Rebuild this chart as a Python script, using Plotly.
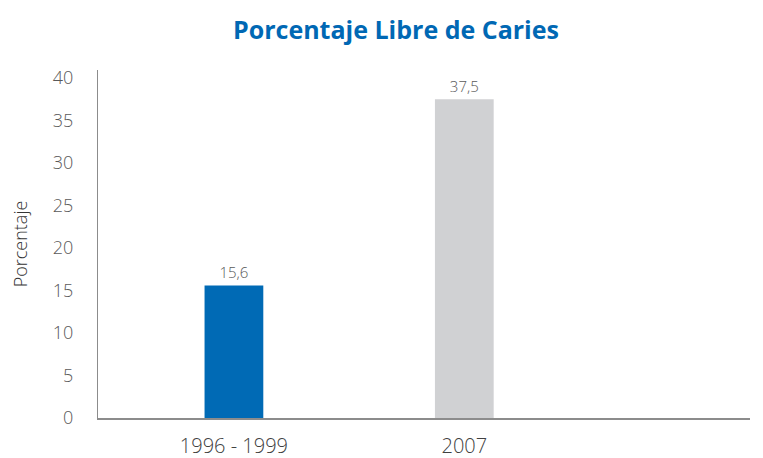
import plotly.graph_objects as go

categories = ["1996 - 1999", "2007"]
values = [15.6, 37.5]
bar_colors = ["#006AB5", "#D0D1D3"]
y_ticks = [0, 5, 10, 15, 20, 25, 30, 35, 40]

fig = go.Figure()
fig.add_trace(go.Bar(
    x=categories, y=values,
    marker=dict(color=bar_colors, line=dict(width=0)),
    width=0.255,
    text=[f"{v:.1f}".replace(".", ",") for v in values],
    textposition="outside",
    textfont=dict(family="Open Sans", size=15, color="#595959", weight=300),
    cliponaxis=False,
    hoverinfo="skip",
))

fig.update_layout(
    width=763, height=458,
    margin=dict(l=98, r=13, t=70, b=40, autoexpand=False),
    paper_bgcolor="white", plot_bgcolor="white",
    showlegend=False,
    title=dict(text="<b>Porcentaje Libre de Caries</b>", x=396/763, xanchor="center",
               y=0.935, yanchor="middle", automargin=False,
               font=dict(family="Open Sans", size=25, color="#0068B4")),
    font=dict(family="Open Sans", color="#595959"),
)
fig.update_xaxes(
    type="category", range=[-0.59, 2.24], automargin=False,
    showline=True, linecolor="#8C8C8C", linewidth=2,
    ticks="", showgrid=False, zeroline=False,
    tickfont=dict(family="Open Sans", size=20, color="#404040", weight=300),
    ticklabelstandoff=9,
)
fig.update_yaxes(
    range=[0, 40.94], tickvals=y_ticks, automargin=False,
    showline=True, linecolor="#8C8C8C", linewidth=1,
    ticks="", showgrid=False, zeroline=False,
    tickfont=dict(family="Open Sans", size=18, color="#595959", weight=300),
    ticklabelstandoff=20,
    title=dict(text="Porcentaje", standoff=20,
               font=dict(family="Open Sans", size=18, color="#333333", weight=300)),
)

fig.write_html("out.html", config={"displayModeBar": False},
               post_script="document.body.style.margin='0';document.body.style.padding='0';")
